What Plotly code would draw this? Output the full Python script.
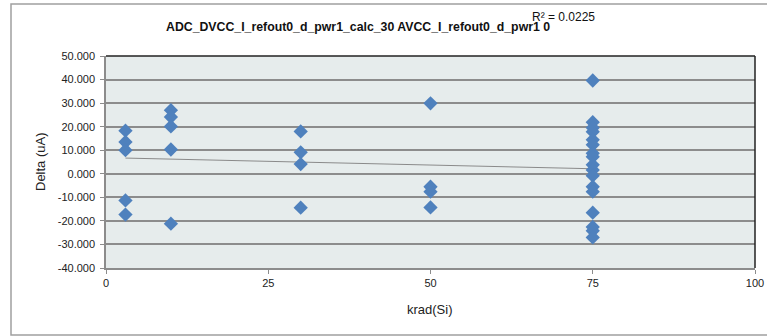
import numpy as np
import plotly.graph_objects as go

krad = [3, 3, 3, 3, 3,
        10, 10, 10, 10, 10,
        30, 30, 30, 30,
        50, 50, 50, 50,
        75, 75, 75, 75, 75, 75, 75, 75, 75, 75, 75, 75, 75, 75, 75, 75, 75]
delta = [18.3, 13.5, 10.0, -11.3, -17.3,
         27.0, 24.1, 20.1, 10.3, -21.2,
         18.0, 9.1, 4.1, -14.4,
         29.9, -5.5, -7.6, -14.3,
         39.6, 21.9, 19.5, 17.8, 14.4, 12.3, 8.7, 7.2, 3.8, 1.6, -0.8, -5.5, -7.6, -16.5, -22.6, -24.2, -27.0]

title_text = "ADC_DVCC_I_refout0_d_pwr1_calc_30 AVCC_I_refout0_d_pwr1 0"
r2_text = "R² = 0.0225"
x_title = "krad(Si)"
y_title = "Delta (uA)"
y_ticks = [50, 40, 30, 20, 10, 0, -10, -20, -30, -40]
x_ticks = [0, 25, 50, 75, 100]

slope, intercept = np.polyfit(krad, delta, 1)
tx = [min(krad), max(krad)]
ty = [slope * v + intercept for v in tx]

font = "Liberation Sans"
L, R, T, B = 106, 755, 56, 268
W, H = 767, 336
pw, ph = R - L, B - T


def px(x):
    return (x - L) / pw


def py(y):
    return (B - y) / ph


fig = go.Figure()
fig.add_trace(go.Scatter(x=tx, y=ty, mode="lines",
                         line=dict(color="#8a8a8a", width=1), hoverinfo="skip"))
fig.add_trace(go.Scatter(x=krad, y=delta, mode="markers",
                         marker=dict(symbol="diamond", size=11, color="#4F81BD",
                                     line=dict(width=0))))

fig.update_layout(
    width=W, height=H,
    margin=dict(l=L, r=W - R, t=T, b=H - B, autoexpand=False),
    paper_bgcolor="white", plot_bgcolor="#E6ECEC",
    showlegend=False,
    font=dict(family=font, size=11, color="#222"),
    xaxis=dict(range=[0, 100], tickvals=x_ticks, ticks="outside", ticklen=4,
               tickcolor="#8c8c8c", showgrid=False, zeroline=False, automargin=False,
               showline=True, linecolor="#8c8c8c", linewidth=1.5),
    yaxis=dict(range=[-40, 50], tickvals=y_ticks,
               ticktext=[f"{v:.3f}" for v in y_ticks], ticks="outside", ticklen=4,
               tickcolor="#8c8c8c", showgrid=True, gridcolor="#8c8c8c", gridwidth=1.5,
               zeroline=False, showline=True, linecolor="#8c8c8c", linewidth=1.5,
               automargin=False, ticklabelstandoff=3),
    shapes=[
        dict(type="line", xref="paper", yref="paper", x0=0, x1=1, y0=1, y1=1,
             line=dict(color="#222", width=1.5)),
        dict(type="line", xref="paper", yref="paper", x0=1, x1=1, y0=0, y1=1,
             line=dict(color="#222", width=1.5)),
        dict(type="rect", xref="paper", yref="paper",
             x0=px(11), x1=px(775), y0=py(335), y1=py(4),
             line=dict(color="#a0a0a0", width=1.5)),
    ],
    annotations=[
        dict(text="<b>" + title_text + "</b>", xref="paper", yref="paper",
             x=px(358), y=py(27), showarrow=False,
             font=dict(size=12.3, color="#111"), xanchor="center", yanchor="middle"),
        dict(text=r2_text, xref="paper", yref="paper",
             x=px(530), y=py(17), showarrow=False,
             font=dict(size=12, color="#111"), xanchor="left", yanchor="middle"),
        dict(text=x_title, xref="paper", yref="paper",
             x=px(430), y=py(309), showarrow=False,
             font=dict(size=13, color="#222"), xanchor="center", yanchor="middle"),
        dict(text=y_title, xref="paper", yref="paper", textangle=-90,
             x=px(40), y=py(162), showarrow=False,
             font=dict(size=13, color="#222"), xanchor="center", yanchor="middle"),
    ],
)

fig.write_html("out.html", config={"displayModeBar": False},
               post_script="document.body.style.margin='0';document.body.style.overflow='hidden';")
